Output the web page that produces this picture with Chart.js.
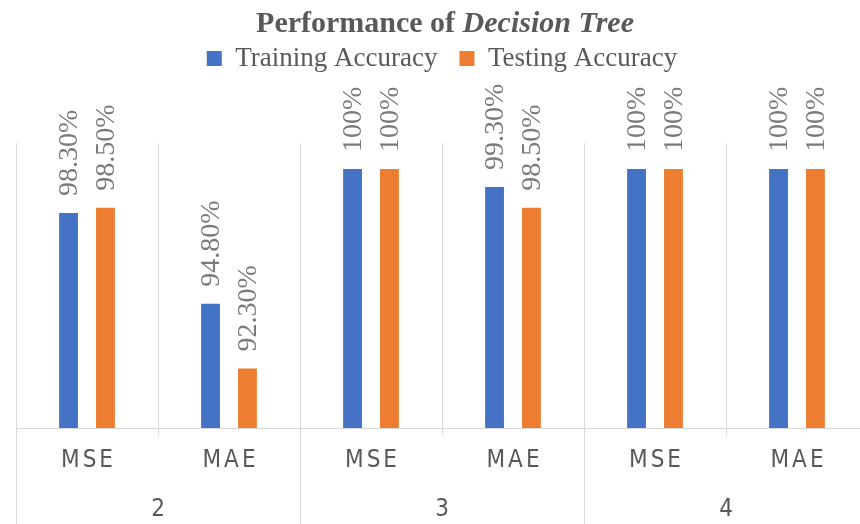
<!DOCTYPE html>
<html>
<head>
<meta charset="utf-8">
<script src="https://cdn.jsdelivr.net/npm/chart.js@4.4.1/dist/chart.umd.min.js"></script>
<style>
  html, body { margin: 0; padding: 0; background: #fff; overflow: hidden; }
  #wrap { width: 870px; height: 524px; }
</style>
</head>
<body>
<div id="wrap"><canvas id="chart" width="870" height="524"></canvas></div>
<script>
var metrics = ['MSE', 'MAE', 'MSE', 'MAE', 'MSE', 'MAE'];
var depths = ['2', '3', '4'];
var training = [98.3, 94.8, 100, 99.3, 100, 100];
var testing = [98.5, 92.3, 100, 98.5, 100, 100];

var grey = '#595959';
var lineGrey = '#d9d9d9';

function fmt(v) {
    return Number.isInteger(v) ? v + '%' : v.toFixed(2) + '%';
}

// title with an italic part
var titlePlugin = {
    id: 'mixedTitle',
    afterDraw: function (chart) {
        var ctx = chart.ctx;
        var a = 'Performance of ', b = 'Decision Tree';
        ctx.save();
        ctx.fillStyle = grey;
        ctx.textBaseline = 'alphabetic';
        ctx.font = 'bold 30px "Liberation Serif"';
        var wa = ctx.measureText(a).width;
        ctx.font = 'italic bold 30px "Liberation Serif"';
        var wb = ctx.measureText(b).width;
        var x = 445 - (wa + wb) / 2;
        ctx.font = 'bold 30px "Liberation Serif"';
        ctx.fillText(a, x, 32);
        ctx.font = 'italic bold 30px "Liberation Serif"';
        ctx.fillText(b, x + wa, 32);
        ctx.restore();
    }
};

// extra room between legend and plot
var legendGap = {
    id: 'legendGap',
    beforeInit: function (chart) {
        var fit = chart.legend.fit;
        chart.legend.fit = function () {
            fit.bind(chart.legend)();
            this.height += 61;
        };
    }
};

// rotated value labels over the bars
var valuePlugin = {
    id: 'valueLabels',
    afterDatasetsDraw: function (chart) {
        var ctx = chart.ctx;
        ctx.save();
        ctx.fillStyle = '#7a7a7a';
        ctx.font = '28px "Liberation Serif"';
        ctx.textAlign = 'left';
        ctx.textBaseline = 'middle';
        chart.data.datasets.forEach(function (ds, i) {
            chart.getDatasetMeta(i).data.forEach(function (bar, j) {
                ctx.save();
                ctx.translate(bar.x + 1, bar.y - 17);
                ctx.rotate(-Math.PI / 2);
                ctx.fillText(fmt(ds.data[j]), 0, 0);
                ctx.restore();
            });
        });
        ctx.restore();
    }
};

// two level category axis below the plot
var axisPlugin = {
    id: 'groupAxis',
    afterDraw: function (chart) {
        var ctx = chart.ctx;
        var xs = chart.scales.x;
        var area = chart.chartArea;
        var step = xs.getPixelForValue(1) - xs.getPixelForValue(0);
        ctx.save();
        ctx.strokeStyle = lineGrey;
        ctx.lineWidth = 1;
        for (var i = 0; i <= metrics.length; i++) {
            var bx = Math.round(xs.getPixelForValue(i) - step / 2) + 0.5;
            ctx.beginPath();
            ctx.moveTo(bx, area.bottom);
            ctx.lineTo(bx, i % 2 === 0 ? chart.height : area.bottom + 7);
            ctx.stroke();
        }
        ctx.fillStyle = grey;
        ctx.textAlign = 'center';
        ctx.textBaseline = 'middle';
        ctx.font = '24px "Liberation Sans Narrow", "DejaVu Sans Condensed", sans-serif';
        ctx.letterSpacing = '3px';
        metrics.forEach(function (m, i) {
            ctx.fillText(m, xs.getPixelForValue(i) + 1.5, 461);
        });
        ctx.letterSpacing = '0px';
        depths.forEach(function (d, g) {
            var cx = (xs.getPixelForValue(g * 2) + xs.getPixelForValue(g * 2 + 1)) / 2;
            ctx.fillText(d, cx, 510);
        });
        ctx.restore();
    }
};

new Chart(document.getElementById('chart').getContext('2d'), {
    type: 'bar',
    data: {
        labels: metrics,
        datasets: [
            { label: 'Training Accuracy', data: training, backgroundColor: '#4472C4' },
            { label: 'Testing Accuracy', data: testing, backgroundColor: '#ED7D31' }
        ]
    },
    options: {
        responsive: false,
        animation: false,
        layout: { padding: { top: 23, left: 16, right: 2, bottom: 96 } },
        datasets: { bar: { categoryPercentage: 0.52, barPercentage: 0.51 } },
        plugins: {
            title: { display: false },
            tooltip: { enabled: false },
            legend: {
                position: 'top',
                labels: {
                    font: { family: 'Liberation Serif', size: 27 },
                    color: grey,
                    boxWidth: 15,
                    boxHeight: 15,
                    padding: 22
                }
            }
        },
        scales: {
            x: {
                offset: true,
                grid: { offset: true, color: lineGrey, drawTicks: false },
                border: { color: lineGrey },
                ticks: { display: false }
            },
            y: {
                display: false,
                min: 90,
                max: 101
            }
        }
    },
    plugins: [legendGap, titlePlugin, valuePlugin, axisPlugin]
});
</script>
</body>
</html>
